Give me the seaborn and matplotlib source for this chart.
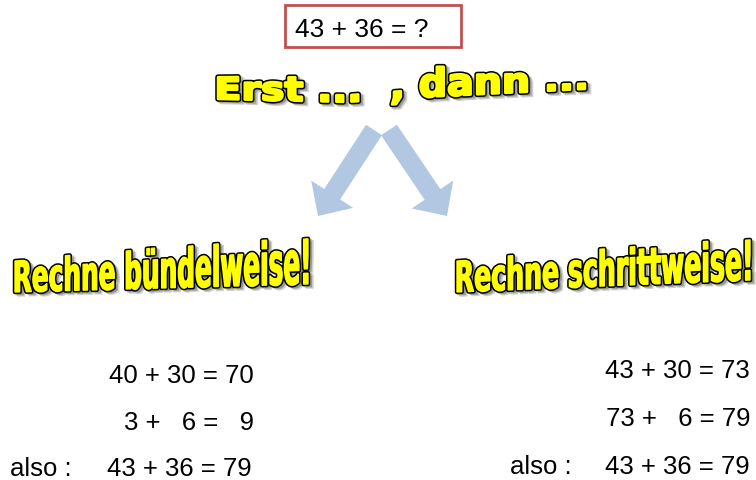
import numpy as np
import matplotlib
matplotlib.use("Agg")
import matplotlib.pyplot as plt
import seaborn as sns
from matplotlib.textpath import TextPath
from matplotlib.font_manager import FontProperties
from matplotlib.path import Path
from matplotlib.patches import PathPatch, FancyArrow, Rectangle

# ---------------------------------
# Content
# ---------------------------------

task_text = "43 + 36 = ?"
headline = "Erst ...  , dann ..."
method_titles = ["Rechne bündelweise!", "Rechne schrittweise!"]
bundle_steps = ["40 + 30 = 70", "3 +   6 =   9"]
step_steps = ["43 + 30 = 73", "73 +   6 = 79"]
result_label = "also :"
result_eq = "43 + 36 = 79"

sns.set_style("white")
plt.rcParams["font.family"] = ["Liberation Sans", "DejaVu Sans"]
plt.rcParams["text.color"] = "black"

ARROW_COLOR = "#b1c7e2"
BOX_COLOR = "#c0504d"

fig = plt.figure(figsize=(7.56, 4.81), dpi=100)
ax = fig.add_axes([0, 0, 1, 1])
ax.set_xlim(0, 756)
ax.set_ylim(481, 0)
ax.axis("off")


# ---------------------------------
# WordArt helper: warp a text outline
# ---------------------------------

def wordart(s, x0, x1, t_pts, base_pts, h_pts, shadow=(4, 3), bold=1.2):
    tp = TextPath((0, 0), s, size=1,
                  prop=FontProperties(family="DejaVu Sans", weight="bold"))
    v = tp.vertices
    ext = tp.get_extents()
    t = (v[:, 0] - ext.x0) / (ext.x1 - ext.x0)
    X = x0 + t * (x1 - x0)
    base = np.interp(t, t_pts, base_pts)
    H = np.interp(t, t_pts, h_pts)
    Y = base - v[:, 1] * H
    sx, sy = shadow
    for k, a in [(1.0, 0.35), (0.6, 0.45)]:
        sh = Path(np.column_stack([X + sx * k, Y + sy * k]), tp.codes)
        ax.add_patch(PathPatch(sh, fc="#7a7a7a", ec="#7a7a7a",
                               lw=bold + 1.5, alpha=a))
    p = Path(np.column_stack([X, Y]), tp.codes)
    # thick black stroke, then yellow fill with a yellow stroke on top
    ax.add_patch(PathPatch(p, fc="black", ec="black", lw=bold + 2.2,
                           joinstyle="round"))
    ax.add_patch(PathPatch(p, fc="#ffff00", ec="#ffff00", lw=bold,
                           joinstyle="round"))


# ---------------------------------
# Task box
# ---------------------------------

ax.add_patch(Rectangle((285, 6), 176, 42, fill=False, ec=BOX_COLOR, lw=2))
ax.text(362, 37, task_text, fontsize=19, ha="center", va="baseline")

# headline
wordart(headline, 218, 585, [0, 0.35, 0.56, 1], [100, 103, 98, 90],
        [30, 36, 40, 29], bold=1.8)

# ---------------------------------
# Arrows
# ---------------------------------

for (xs, ys), (xe, ye) in [((374, 131), (318, 217)), ((389, 131), (447, 217))]:
    ax.add_patch(FancyArrow(xs, ys, xe - xs, ye - ys, width=19,
                            head_width=50, head_length=26,
                            length_includes_head=True,
                            fc=ARROW_COLOR, ec="none"))

# method titles
wordart(method_titles[0], 15, 308, [0, 1], [293, 285], [42.5, 62], bold=1.0)
wordart(method_titles[1], 457, 750, [0, 1], [293, 281], [42.5, 55], bold=1.0)

# ---------------------------------
# Calculations
# ---------------------------------

FS = 18.5
for i, row in enumerate(bundle_steps):
    ax.text(254, 383 + 47 * i, row, fontsize=FS, ha="right", va="baseline")
ax.text(10, 476, result_label, fontsize=FS, ha="left", va="baseline")
ax.text(252, 476, result_eq, fontsize=FS, ha="right", va="baseline")

for i, row in enumerate(step_steps):
    ax.text(750, 378 + 48 * i, row, fontsize=FS, ha="right", va="baseline")
ax.text(510, 474, result_label, fontsize=FS, ha="left", va="baseline")
ax.text(750, 474, result_eq, fontsize=FS, ha="right", va="baseline")

fig.savefig("out.png", dpi=100)
